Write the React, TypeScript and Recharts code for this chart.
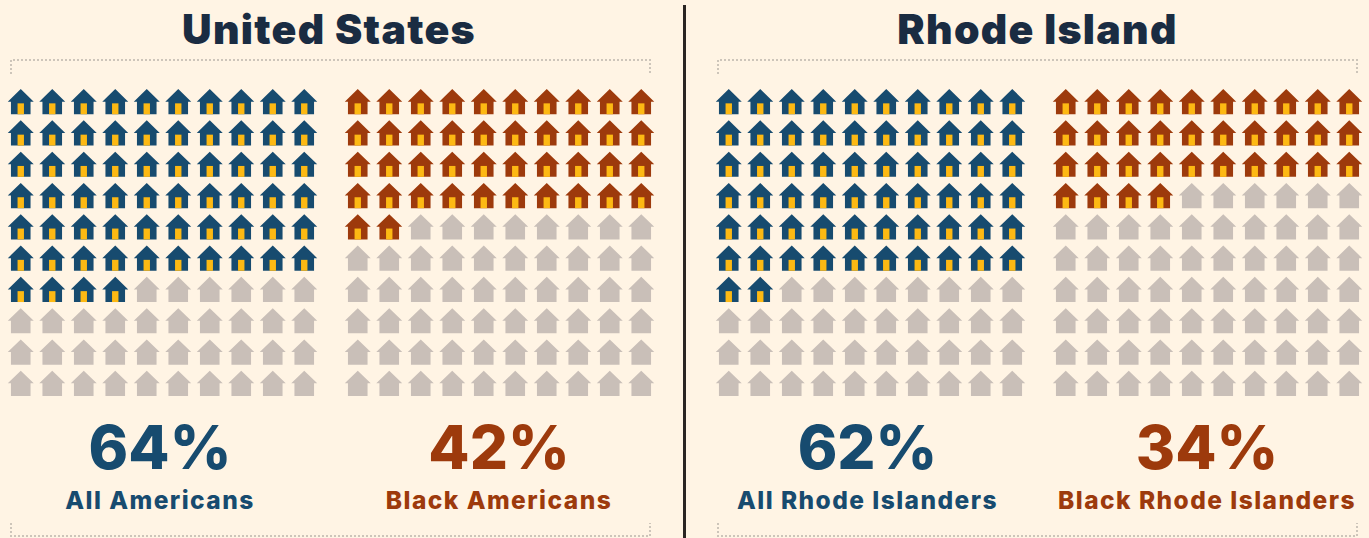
import { ScatterChart, Scatter, XAxis, YAxis } from 'recharts'

const groups = ['All Americans', 'Black Americans', 'All Rhode Islanders', 'Black Rhode Islanders']
const shares = [64, 42, 62, 34]
const regions = ['United States', 'Rhode Island']
const columns = [0, 1, 2, 3, 4, 5, 6, 7, 8, 9]
const rows = [0, 1, 2, 3, 4, 5, 6, 7, 8, 9]

const BLUE = '#174b6f'
const RUST = '#9d3a0c'
const GREY = '#c9bfb8'
const DOOR = '#fdb913'
const NAVY = '#1a2c42'
const CREAM = '#fff4e4'
const DOTS = '#cdc5ba'
const FONT = 'Inter, sans-serif'

const panels = [
  { group: 0, left: 5, center: 160, fill: BLUE },
  { group: 1, left: 342, center: 499, fill: RUST },
  { group: 2, left: 712.6, center: 867.5, fill: BLUE },
  { group: 3, left: 1050, center: 1207, fill: RUST },
]

const cellsFor = (share: number) =>
  rows.flatMap((row) =>
    columns.map((col) => ({ col, row, owned: row * columns.length + col < share })),
  )

function House({ cx, cy, payload, fill }: any) {
  const color = payload.owned ? fill : GREY
  return (
    <g transform={`translate(${cx} ${cy})`}>
      <path d="M0 -12.6 L13 0 L9.8 0 L9.8 12.6 L-9.8 12.6 L-9.8 0 L-13 0 Z" fill={color} />
      {payload.owned && <rect x={-3.2} y={1.7} width={6.4} height={10.9} fill={DOOR} />}
    </g>
  )
}

function Waffle({ share, fill, left }: { share: number; fill: string; left: number }) {
  return (
    <div style={{ position: 'absolute', left, top: 85.6 }}>
      <ScatterChart width={315} height={313} margin={{ top: 0, right: 0, bottom: 0, left: 0 }}>
        <XAxis type="number" dataKey="col" domain={[-0.5, 9.5]} hide />
        <YAxis type="number" dataKey="row" domain={[-0.5, 9.5]} reversed hide />
        <Scatter
          data={cellsFor(share)}
          isAnimationActive={false}
          shape={(props: any) => <House {...props} fill={fill} />}
        />
      </ScatterChart>
    </div>
  )
}

function Bracket({ x1, x2, y, tip }: { x1: number; x2: number; y: number; tip: number }) {
  return (
    <path
      d={`M${x1} ${tip} L${x1} ${y} L${x2} ${y} L${x2} ${tip}`}
      fill="none"
      stroke={DOTS}
      strokeWidth={2}
      strokeDasharray="2 2"
    />
  )
}

const textStyle = {
  position: 'absolute' as const,
  transform: 'translateX(-50%)',
  whiteSpace: 'nowrap' as const,
  fontFamily: FONT,
}

export default function App() {
  return (
    <div style={{ position: 'absolute', left: 0, top: 0, width: 1369, height: 538, background: CREAM, overflow: 'hidden' }}>
      <svg width={1369} height={538} style={{ position: 'absolute', left: 0, top: 0 }}>
        <Bracket x1={11} x2={650} y={60} tip={74} />
        <Bracket x1={718} x2={1357} y={60} tip={74} />
        <Bracket x1={11} x2={650} y={536} tip={523} />
        <Bracket x1={718} x2={1357} y={536} tip={523} />
        <rect x={683} y={5} width={3} height={533} fill="#2a2523" />
      </svg>

      {regions.map((region, i) => (
        <div
          key={region}
          style={{
            ...textStyle,
            left: i === 0 ? 329 : 1037.5,
            top: 4,
            fontSize: 41,
            lineHeight: '50px',
            fontWeight: 900,
            letterSpacing: 1.3,
            color: NAVY,
          }}
        >
          {region}
        </div>
      ))}

      {panels.map((p) => (
        <Waffle key={p.group} share={shares[p.group]} fill={p.fill} left={p.left} />
      ))}

      {panels.map((p) => (
        <div key={p.group}>
          <div
            style={{
              ...textStyle,
              left: p.center,
              top: 409,
              fontSize: 60,
              lineHeight: '76px',
              fontWeight: 800,
              color: p.fill,
            }}
          >
            {shares[p.group]}%
          </div>
          <div
            style={{
              ...textStyle,
              left: p.center,
              top: 485,
              fontSize: 24.5,
              lineHeight: '30px',
              fontWeight: 800,
              letterSpacing: 1.45,
              color: p.fill,
            }}
          >
            {groups[p.group]}
          </div>
        </div>
      ))}
    </div>
  )
}
